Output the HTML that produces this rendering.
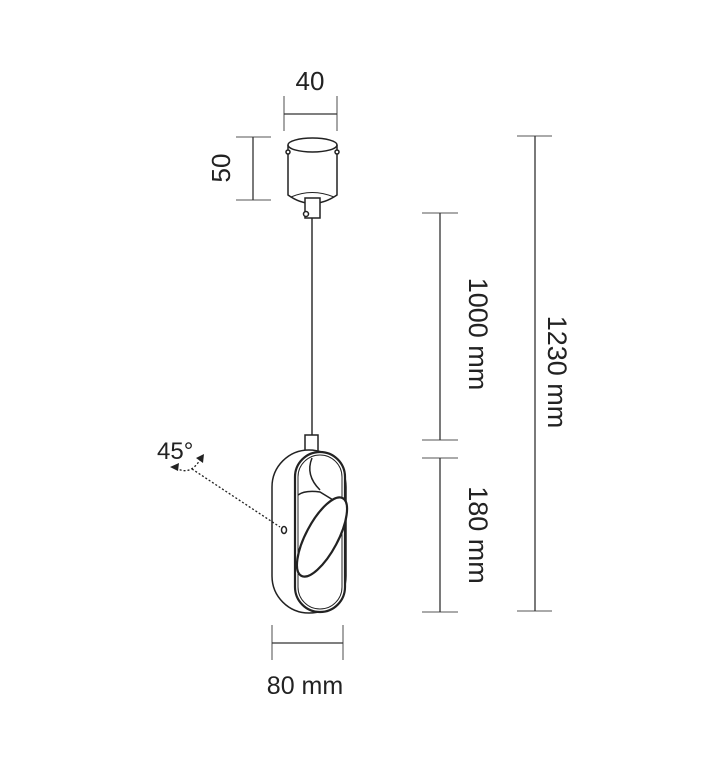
<!DOCTYPE html>
<html><head><meta charset="utf-8"><style>
html,body{margin:0;padding:0;background:#fff;}
svg{display:block;}
text{font-family:"Liberation Sans",Arial,sans-serif;fill:#222;}
</style></head><body>
<svg width="721" height="760" viewBox="0 0 721 760" xmlns="http://www.w3.org/2000/svg">
<g stroke="#777" stroke-width="1.3" fill="none">
 <line x1="284" y1="96" x2="284" y2="131"/><line x1="337" y1="96" x2="337" y2="131"/>
 <line x1="284" y1="114" x2="337" y2="114" stroke="#333"/>
 <line x1="236" y1="137" x2="271" y2="137"/><line x1="236" y1="200" x2="271" y2="200"/>
 <line x1="253" y1="137" x2="253" y2="200" stroke="#333"/>
 <line x1="422" y1="213" x2="458" y2="213"/><line x1="422" y1="440" x2="458" y2="440"/>
 <line x1="422" y1="458" x2="458" y2="458"/><line x1="422" y1="612" x2="458" y2="612"/>
 <line x1="440" y1="213" x2="440" y2="440" stroke="#333"/>
 <line x1="440" y1="458" x2="440" y2="612" stroke="#333"/>
 <line x1="517" y1="136" x2="552" y2="136"/><line x1="517" y1="611" x2="552" y2="611"/>
 <line x1="535" y1="136" x2="535" y2="611" stroke="#333"/>
 <line x1="272" y1="625" x2="272" y2="660"/><line x1="343" y1="625" x2="343" y2="660"/>
 <line x1="272" y1="643" x2="343" y2="643" stroke="#333"/>
</g>
<g stroke="#222" stroke-width="1.5" fill="#fff">
 <path d="M288 145 L288 195 Q312 212 337 195 L337 145"/>
 <ellipse cx="312.5" cy="145" rx="24.5" ry="7"/>
 <path d="M291 197 Q312 188 334 197" fill="none" stroke-width="1"/>
 <circle cx="288" cy="152" r="2" />
 <circle cx="337" cy="152" r="2" />
 <rect x="305" y="198" width="15" height="20"/>
 <circle cx="306" cy="214" r="2.5"/>
 <line x1="312" y1="218" x2="312" y2="435" stroke-width="1.4"/>
 <rect x="305" y="435" width="13" height="17"/>
 <rect x="272" y="450" width="74" height="163" rx="37" ry="37"/>
 <rect x="295" y="452" width="50" height="160" rx="25" ry="25" stroke-width="2.2"/>
 <rect x="298" y="455" width="44" height="154" rx="22" ry="22" fill="none" stroke-width="1"/>
 <path d="M312 458 Q305 475 320 490" fill="none"/>
 <path d="M298 495 Q305 490 320 492 L338 503" fill="none"/>
 <path d="M298 567 L312 565" fill="none"/>
 <ellipse cx="322" cy="537" rx="16" ry="44" transform="rotate(28 322 537)" stroke-width="2.2"/>
 <ellipse cx="284" cy="530" rx="2.5" ry="3.5"/>
</g>
<g stroke="#222" stroke-width="1.3" fill="none" stroke-dasharray="2 2">
 <line x1="192" y1="469" x2="280" y2="527"/>
 <path d="M176 468 Q190 476 200 460"/>
</g>
<path d="M170 467 L179 463 L178 471 Z" fill="#222"/>
<path d="M204 454 L203 463 L196 458 Z" fill="#222"/>
<text x="157" y="459" font-size="24">45°</text>
<text x="310" y="90" font-size="26" text-anchor="middle">40</text>
<text x="305" y="694" font-size="25" text-anchor="middle">80 mm</text>
<text transform="translate(230 168) rotate(-90)" font-size="26" text-anchor="middle">50</text>
<text transform="translate(469 334) rotate(90)" font-size="27" text-anchor="middle">1000 mm</text>
<text transform="translate(469 535) rotate(90)" font-size="27" text-anchor="middle">180 mm</text>
<text transform="translate(548 372) rotate(90)" font-size="27" text-anchor="middle">1230 mm</text>
</svg>
</body></html>
